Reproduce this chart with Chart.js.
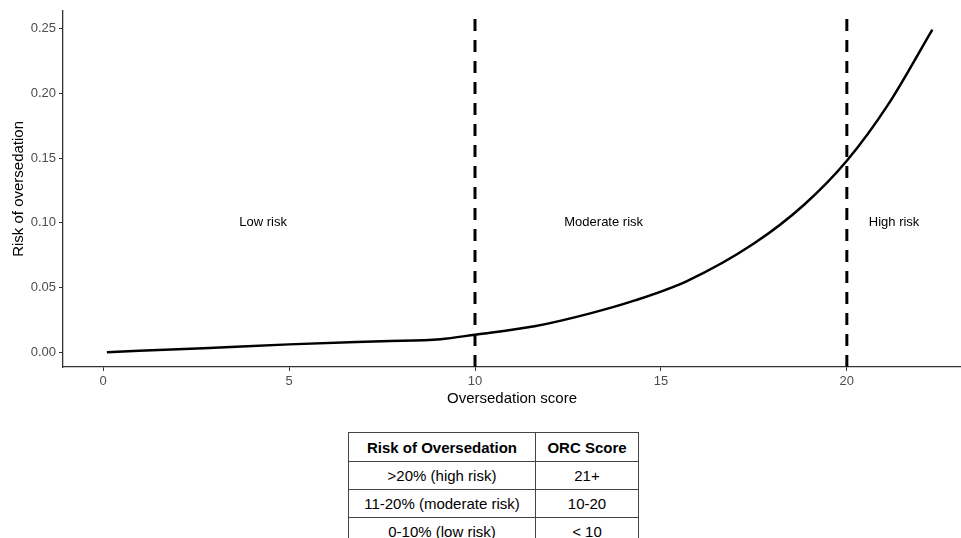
<!DOCTYPE html>
<html>
<head>
<meta charset="utf-8">
<script src="https://cdn.jsdelivr.net/npm/chart.js@4"></script>
<style>
    body { margin: 0; background: #fff; font-family: "Liberation Sans", Arial, sans-serif; }
    #wrap { position: relative; width: 961px; height: 410px; }
    table.orc {
        position: absolute; left: 348px; top: 432px;
        border-collapse: collapse; font-size: 15px; color: #000;
    }
    table.orc td, table.orc th {
        border: 1px solid #444; height: 27px; padding: 0 6px; text-align: center;
    }
    table.orc th { font-weight: bold; height: 28px; }
</style>
</head>
<body>
<div id="wrap"><canvas id="riskChart" width="961" height="410"></canvas></div>
<table class="orc" id="orcTable"></table>
<script>
// Podaci sa grafika
const scores = [0.1, 2.7, 5, 7.5, 9.07, 10, 11.6, 13.1, 14.3, 15.7, 17.5, 18.85, 20, 21.1, 22.3];
const risks = [0, 0.003, 0.006, 0.0085, 0.010, 0.0135, 0.020, 0.030, 0.040, 0.055, 0.084, 0.114, 0.148, 0.191, 0.2495];
const cutoffs = [10, 20];
const xTicks = [0, 5, 10, 15, 20];
const yTicks = [0, 0.05, 0.10, 0.15, 0.20, 0.25];
const riskLabels = ['Low risk', 'Moderate risk', 'High risk'];
const riskLabelX = [4.3, 13.46, 21.27];
const riskLabelY = 0.1;
const tableHeader = ['Risk of Oversedation', 'ORC Score'];
const tableRisk = ['>20% (high risk)', '11-20% (moderate risk)', '0-10% (low risk)'];
const tableScore = ['21+', '10-20', '< 10'];

const xMin = -1.08, xMax = 23.07;
const yMin = -0.0115, yMax = 0.264;

// tabela ispod grafika
const table = document.getElementById('orcTable');
let html = '<tr><th style="width:174px">' + tableHeader[0] + '</th><th style="width:90px">' + tableHeader[1] + '</th></tr>';
tableRisk.forEach((r, i) => {
    html += '<tr><td>' + r.replace('<', '&lt;').replace('>', '&gt;') + '</td><td>' + tableScore[i].replace('<', '&lt;') + '</td></tr>';
});
table.innerHTML = html;

// tekst za zone rizika
const zoneText = {
    id: 'zoneText',
    afterDatasetsDraw(chart) {
        const ctx = chart.ctx;
        const xs = chart.scales.x, ys = chart.scales.y;
        ctx.save();
        ctx.font = '13px "Liberation Sans", Arial, sans-serif';
        ctx.fillStyle = '#000';
        ctx.textAlign = 'center';
        ctx.textBaseline = 'middle';
        riskLabels.forEach((t, i) => {
            ctx.fillText(t, xs.getPixelForValue(riskLabelX[i]), ys.getPixelForValue(riskLabelY));
        });
        ctx.restore();
    }
};

const curve = scores.map((s, i) => ({ x: s, y: risks[i] }));
const cutoffSets = cutoffs.map(c => ({
    data: [{ x: c, y: yMin }, { x: c, y: yMax }],
    showLine: true,
    borderColor: '#000',
    borderWidth: 3,
    borderDash: [12, 9],
    pointRadius: 0
}));

const ctx = document.getElementById('riskChart').getContext('2d');
new Chart(ctx, {
    type: 'scatter',
    data: {
        datasets: [{
            data: curve,
            showLine: true,
            borderColor: '#000',
            borderWidth: 2.5,
            pointRadius: 0,
            cubicInterpolationMode: 'monotone'
        }].concat(cutoffSets)
    },
    options: {
        responsive: false,
        animation: false,
        layout: { padding: { top: 6, right: 0, left: 0, bottom: 0 } },
        plugins: { legend: { display: false }, tooltip: { enabled: false } },
        scales: {
            x: {
                type: 'linear', min: xMin, max: xMax,
                afterBuildTicks: s => { s.ticks = xTicks.map(v => ({ value: v })); },
                afterFit: s => { s.height = 43; },
                grid: { display: true, drawOnChartArea: false, drawTicks: true, tickLength: 4, color: '#333', lineWidth: 1 },
                border: { display: true, color: '#333', width: 1.3 },
                ticks: { color: '#4d4d4d', font: { size: 13, family: '"Liberation Sans", Arial' }, padding: 3 },
                title: { display: true, text: 'Oversedation score', color: '#000', font: { size: 15, family: '"Liberation Sans", Arial' }, padding: { top: 2, bottom: 2 } }
            },
            y: {
                type: 'linear', min: yMin, max: yMax,
                afterBuildTicks: s => { s.ticks = yTicks.map(v => ({ value: v })); },
                afterFit: s => { s.width = 63; },
                grid: { display: true, drawOnChartArea: false, drawTicks: true, tickLength: 4, color: '#333', lineWidth: 1 },
                border: { display: true, color: '#333', width: 1.3 },
                ticks: { color: '#4d4d4d', font: { size: 13, family: '"Liberation Sans", Arial' }, padding: 3, callback: v => v.toFixed(2) },
                title: { display: true, text: 'Risk of oversedation', color: '#000', font: { size: 15, family: '"Liberation Sans", Arial' }, padding: { top: 10, bottom: 2 } }
            }
        }
    },
    plugins: [zoneText]
});
</script>
</body>
</html>
